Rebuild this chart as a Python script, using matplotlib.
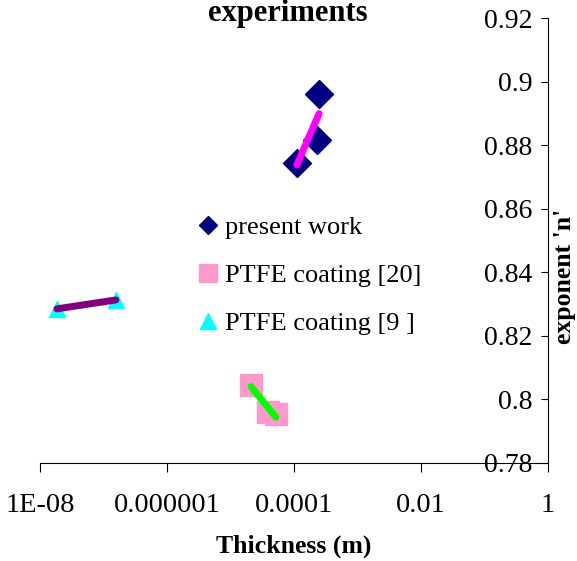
import numpy as np
import matplotlib
matplotlib.use('Agg')
import matplotlib.pyplot as plt
from matplotlib.lines import Line2D
from matplotlib.ticker import NullLocator

plt.rcParams['font.family'] = ['Liberation Serif', 'DejaVu Serif']

# data
present_x = [1.11e-4, 2.3e-4, 2.48e-4]
present_n = [0.8744, 0.8816, 0.8961]

ptfe20_x = [2.1e-5, 3.9e-5, 5.2e-5]
ptfe20_n = [0.8045, 0.7960, 0.7954]

ptfe9_x = [1.85e-8, 1.57e-7]
ptfe9_n = [0.8285, 0.8313]

xtick_vals = [1e-8, 1e-6, 1e-4, 1e-2, 1]
xtick_labels = ['1E-08', '0.000001', '0.0001', '0.01', '1']
ytick_vals = [0.78, 0.80, 0.82, 0.84, 0.86, 0.88, 0.90, 0.92]
ytick_labels = ['0.78', '0.8', '0.82', '0.84', '0.86', '0.88', '0.9', '0.92']


def trend(ax, xs, ys, color):
    # linear fit in log10(x), drawn between the extreme points
    lx = np.log10(xs)
    k, b = np.polyfit(lx, ys, 1)
    xe = np.array([lx.min(), lx.max()])
    ax.plot(10 ** xe, k * xe + b, color=color, lw=5, solid_capstyle='round', zorder=4)


fig = plt.figure(figsize=(5.77, 5.61), dpi=100)
ax = fig.add_axes([40 / 577, 1 - 463 / 561, 508 / 577, 445 / 561])
ax.set_xscale('log')
ax.set_xlim(1e-8, 1)
ax.set_ylim(0.78, 0.92)

ax.plot(present_x, present_n, 'D', color='#000080', ms=14, ls='none', zorder=3)
ax.plot(ptfe20_x, ptfe20_n, 's', color='#FF99CC', ms=16, ls='none', zorder=3)
ax.plot(ptfe9_x, ptfe9_n, '^', color='#00FFFF', ms=11, ls='none', zorder=3)

trend(ax, present_x, present_n, '#FF00FF')
trend(ax, ptfe20_x, ptfe20_n, '#00FF00')
trend(ax, ptfe9_x, ptfe9_n, '#800080')

ax.spines['top'].set_visible(False)
ax.spines['right'].set_visible(False)
ax.spines['left'].set_position(('axes', 1.0))

ax.set_xticks(xtick_vals)
ax.set_xticklabels(xtick_labels)
ax.xaxis.set_minor_locator(NullLocator())
ax.set_yticks(ytick_vals)
ax.set_yticklabels(ytick_labels)
ax.tick_params(axis='x', direction='out', length=6.5, pad=15, labelsize=20.5)
ax.tick_params(axis='y', direction='out', length=5, pad=6, labelsize=20)

ax.set_xlabel('Thickness (m)', fontsize=18.5, fontweight='bold', labelpad=12)
ax.set_ylabel("exponent 'n'", fontsize=18.5, fontweight='bold')
ax.yaxis.set_label_position('right')
ax.yaxis.set_label_coords(1.010, 0.42)

fig.text(288 / 577, 1 - 21 / 561, 'experiments', fontsize=22, fontweight='bold',
         ha='center', va='baseline')

handles = [
    Line2D([], [], marker='D', color='#000080', ls='none', ms=9),
    Line2D([], [], marker='s', color='#FF99CC', ls='none', ms=13),
    Line2D([], [], marker='^', color='#00FFFF', ls='none', ms=12),
]
labels = ['present work', 'PTFE coating [20]', 'PTFE coating [9 ]']
fig.legend(handles, labels, loc='upper left', bbox_to_anchor=(197 / 577, 1 - 216 / 561),
           frameon=False, fontsize=19, handlelength=0.8, handletextpad=0.25,
           borderpad=0, borderaxespad=0, labelspacing=0.92)

fig.savefig('out.png', dpi=100)
